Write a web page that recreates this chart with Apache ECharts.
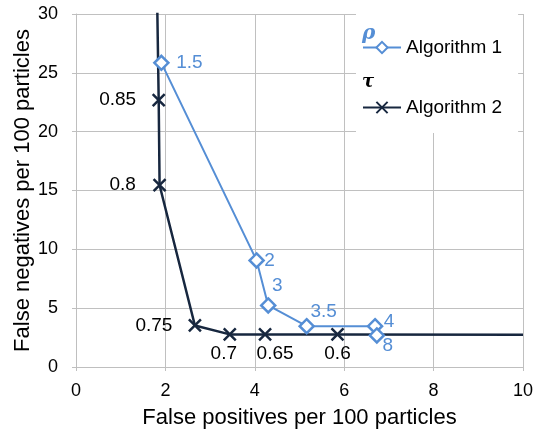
<!DOCTYPE html>
<html>
<head>
<meta charset="utf-8">
<script src="https://cdn.jsdelivr.net/npm/echarts@6/dist/echarts.min.js"></script>
<style>
  html, body { margin: 0; padding: 0; background: #fff; }
  #chart { width: 535px; height: 433px; }
</style>
</head>
<body>
<div id="chart"></div>
<script>
  // Algorithm 1 (rho threshold)
  const algo1X = [1.91, 4.04, 4.30, 5.16, 6.69, 6.73];
  const algo1Y = [25.85, 9.06, 5.23, 3.47, 3.47, 2.68];
  const algo1Labels = ['1.5', '2', '3', '3.5', '4', '8'];

  // Algorithm 2 (tau threshold); first and last points run off the plot
  const algo2X = [1.80, 1.85, 1.87, 2.66, 3.44, 4.23, 5.85, 10.0];
  const algo2Y = [35, 22.68, 15.45, 3.53, 2.77, 2.77, 2.77, 2.75];
  const algo2Labels = ['', '0.85', '0.8', '0.75', '0.7', '0.65', '0.6', ''];

  const xTicks = [0, 2, 4, 6, 8, 10];
  const yTicks = [0, 5, 10, 15, 20, 25, 30];

  // label offsets from the marker centre (style only)
  const offs1 = [[28, 0], [13, 0], [9, -20], [17, -14], [14, -4], [11, 10]];
  const offs2 = [[0, 0], [-41, 0], [-37, 0], [-41, 0], [-6, 19], [10, 19], [0, 19], [0, 0]];

  const blue = '#558ed5';
  const navy = '#17273f';
  const font = 'Liberation Sans, Arial, sans-serif';

  function build(xs, ys, labels, offs, color) {
    return xs.map(function (x, i) {
      const item = {
        value: [x, ys[i]],
        label: {
          show: labels[i] !== '',
          formatter: labels[i],
          position: 'inside',
          offset: offs[i],
          color: color,
          fontSize: 19,
          fontFamily: font
        }
      };
      if (labels[i] === '') item.symbol = 'none';
      return item;
    });
  }

  const chart = echarts.init(document.getElementById('chart'));
  chart.setOption({
    animation: false,
    grid: { left: 76, right: 12, top: 14, bottom: 66, outerBoundsMode: 'none', containLabel: false },
    legend: {
      orient: 'vertical',
      left: 356,
      top: 14,
      padding: [24, 16, 16, 6],
      backgroundColor: '#fff',
      itemWidth: 38,
      itemHeight: 14,
      itemGap: 41,
      textStyle: { fontSize: 19, fontFamily: font, color: '#000' },
      data: ['Algorithm 1', 'Algorithm 2']
    },
    graphic: [
      { type: 'text', left: 362, top: 24, style: { text: 'ρ', fill: blue, font: 'italic bold 20px DejaVu Serif' }, z: 100 },
      { type: 'text', left: 362, top: 73, style: { text: 'τ', fill: '#000', font: 'italic bold 18px DejaVu Serif' }, z: 100 }
    ],
    xAxis: {
      type: 'value',
      min: xTicks[0],
      max: xTicks[xTicks.length - 1],
      interval: 2,
      name: 'False positives per 100 particles',
      nameLocation: 'middle',
      nameGap: 40,
      nameMoveOverlap: false,
      nameTextStyle: { fontSize: 22, fontFamily: font, color: '#000' },
      axisLine: { lineStyle: { color: '#bfbfbf', width: 1 } },
      axisTick: { show: true, length: 4, lineStyle: { color: '#bfbfbf' } },
      axisLabel: { fontSize: 18, fontFamily: font, color: '#000', margin: 15 },
      splitLine: { show: true, lineStyle: { color: '#c0c0c0', width: 1 } }
    },
    yAxis: {
      type: 'value',
      min: yTicks[0],
      max: yTicks[yTicks.length - 1],
      interval: 5,
      name: 'False negatives per 100 particles',
      nameLocation: 'middle',
      nameGap: 42,
      nameMoveOverlap: false,
      nameTextStyle: { fontSize: 22, fontFamily: font, color: '#000' },
      axisLine: { show: true, lineStyle: { color: '#bfbfbf', width: 1 } },
      axisTick: { show: true, length: 4, lineStyle: { color: '#bfbfbf' } },
      axisLabel: { fontSize: 18, fontFamily: font, color: '#000', margin: 18 },
      splitLine: { show: true, lineStyle: { color: '#c0c0c0', width: 1 } }
    },
    series: [
      {
        name: 'Algorithm 1',
        type: 'line',
        data: build(algo1X, algo1Y, algo1Labels, offs1, blue),
        symbol: 'diamond',
        symbolSize: 14,
        showAllSymbol: true,
        clip: true,
        lineStyle: { color: blue, width: 2 },
        itemStyle: { color: '#fff', borderColor: blue, borderWidth: 2.5 },
        z: 3
      },
      {
        name: 'Algorithm 2',
        type: 'line',
        data: build(algo2X, algo2Y, algo2Labels, offs2, '#000'),
        symbol: 'path://M0,0L10,10M10,0L0,10',
        symbolSize: 12,
        showAllSymbol: true,
        clip: true,
        lineStyle: { color: navy, width: 2.5 },
        itemStyle: { color: 'none', borderColor: navy, borderWidth: 2.5 },
        z: 2
      }
    ]
  });
</script>
</body>
</html>
